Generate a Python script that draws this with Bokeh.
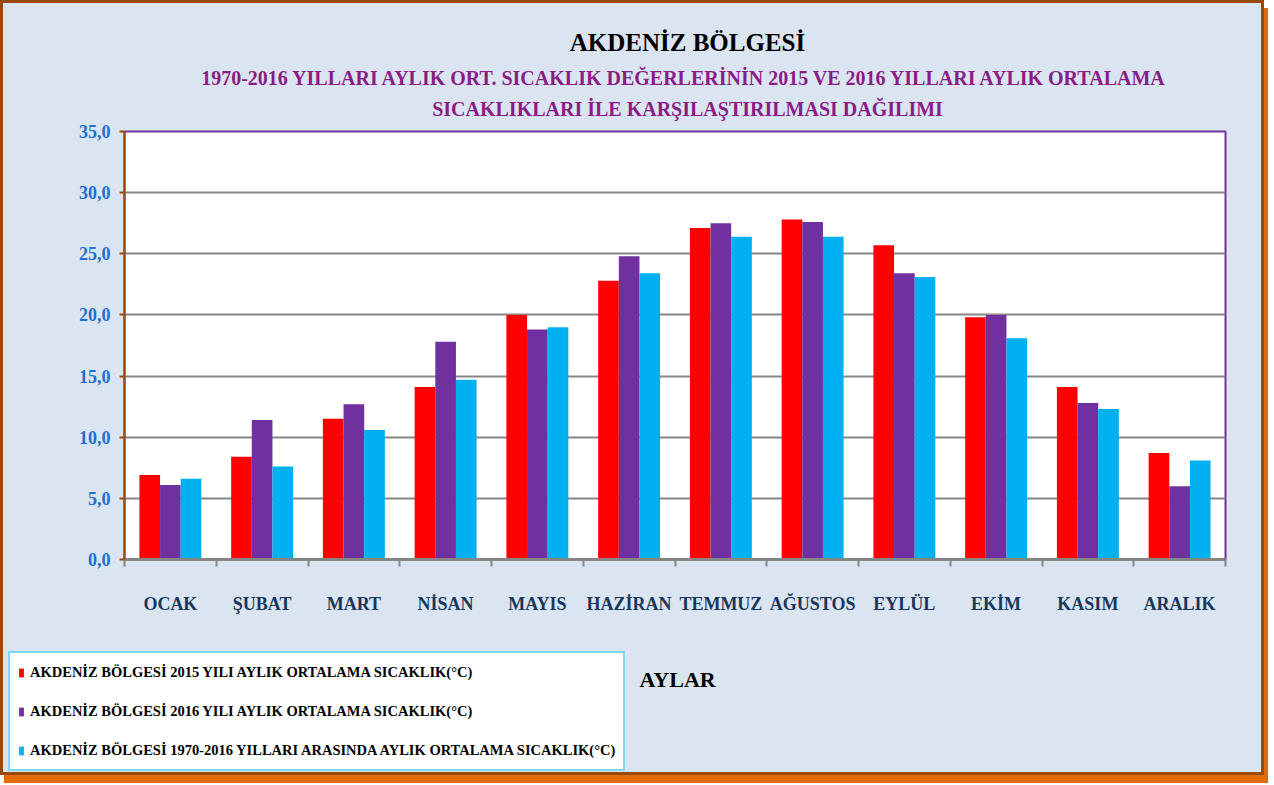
import numpy as np
from bokeh.plotting import figure
from bokeh.layouts import column
from bokeh.models import Range1d, FixedTicker, Legend, LegendItem, Label
from bokeh.embed import file_html
from bokeh.resources import INLINE

months = ["OCAK", "ŞUBAT", "MART", "NİSAN", "MAYIS", "HAZİRAN", "TEMMUZ",
          "AĞUSTOS", "EYLÜL", "EKİM", "KASIM", "ARALIK"]
t2015 = [6.9, 8.4, 11.5, 14.1, 20.0, 22.8, 27.1, 27.8, 25.7, 19.8, 14.1, 8.7]
t2016 = [6.1, 11.4, 12.7, 17.8, 18.8, 24.8, 27.5, 27.6, 23.4, 20.0, 12.8, 6.0]
tavg = [6.6, 7.6, 10.6, 14.7, 19.0, 23.4, 26.4, 26.4, 23.1, 18.1, 12.3, 8.1]
series_names = [
    "AKDENİZ BÖLGESİ 2015 YILI AYLIK ORTALAMA SICAKLIK(°C)",
    "AKDENİZ BÖLGESİ 2016 YILI AYLIK ORTALAMA SICAKLIK(°C)",
    "AKDENİZ BÖLGESİ 1970-2016 YILLARI ARASINDA AYLIK ORTALAMA SICAKLIK(°C)",
]
y_ticks = [0, 5, 10, 15, 20, 25, 30, 35]
y_tick_labels = ["0,0", "5,0", "10,0", "15,0", "20,0", "25,0", "30,0", "35,0"]
title = "AKDENİZ BÖLGESİ"
subtitle1 = "1970-2016 YILLARI AYLIK ORT. SICAKLIK DEĞERLERİNİN 2015 VE 2016  YILLARI AYLIK ORTALAMA"
subtitle2 = "SICAKLIKLARI İLE KARŞILAŞTIRILMASI DAĞILIMI"
x_title = "AYLAR"

colors = ["#FF0000", "#7030A0", "#00B0F0"]
BG = "#DBE5F1"
SERIF = "Liberation Serif"
W = 1258
H0, H1, H2 = 120, 517, 132


def no_align(fig):
    try:
        fig.frame_align = False
    except Exception:
        pass


def blank_strip(height):
    f = figure(width=W, height=height, output_backend="svg", toolbar_location=None,
               x_range=Range1d(0, len(months)), y_range=Range1d(100, 101),
               x_axis_location=None, y_axis_location=None,
               min_border_left=0, min_border_right=0, min_border_top=0, min_border_bottom=0)
    f.border_fill_color = BG
    f.background_fill_color = BG
    f.outline_line_color = None
    f.xgrid.grid_line_color = None
    f.ygrid.grid_line_color = None
    no_align(f)
    return f


# ---- header strip with the titles
h = blank_strip(H0)
for txt, size, col, ypos in [(title, "25px", "black", 81),
                             (subtitle1, "20px", "#8A1C87", 46),
                             (subtitle2, "20px", "#8A1C87", 15)]:
    h.add_layout(Label(x=684, y=ypos, x_units="screen", y_units="screen", text=txt,
                       text_font=SERIF, text_font_style="bold", text_font_size=size,
                       text_color=col, text_align="center", text_baseline="middle"))

# ---- main chart
p = figure(width=W, height=H1, output_backend="svg", toolbar_location=None,
           x_range=Range1d(0, len(months)), y_range=Range1d(0, 35),
           min_border_left=121, min_border_top=8, min_border_right=36,
           min_border_bottom=81)
no_align(p)
p.border_fill_color = BG
p.background_fill_color = "white"
p.outline_line_color = "#7030A0"
p.outline_line_width = 2

idx = np.arange(len(months)) + 0.5
offsets = [-0.225, 0.0, 0.225]
for vals, col, off in zip([t2015, t2016, tavg], colors, offsets):
    p.vbar(x=idx + off, top=vals, width=0.225, bottom=0,
           fill_color=col, line_color=None)

p.yaxis.ticker = FixedTicker(ticks=y_ticks)
p.yaxis.major_label_overrides = {t: l for t, l in zip(y_ticks, y_tick_labels)}
p.yaxis.axis_line_color = "#984807"
p.yaxis.axis_line_width = 2
p.yaxis.major_tick_line_color = "#984807"
p.yaxis.major_tick_line_width = 2
p.yaxis.major_tick_out = 5
p.yaxis.major_tick_in = 0
p.yaxis.minor_tick_line_color = None
p.yaxis.major_label_text_color = "#1F6FD0"
p.yaxis.major_label_text_font = SERIF
p.yaxis.major_label_text_font_style = "bold"
p.yaxis.major_label_text_font_size = "18px"
p.yaxis.major_label_standoff = 9

p.xaxis.ticker = FixedTicker(ticks=list(idx), minor_ticks=list(range(len(months) + 1)))
p.xaxis.major_label_overrides = {float(t): m for t, m in zip(idx, months)}
p.xaxis.axis_line_color = "#868686"
p.xaxis.axis_line_width = 3
p.xaxis.major_tick_line_color = None
p.xaxis.minor_tick_line_color = "#868686"
p.xaxis.minor_tick_line_width = 2
p.xaxis.minor_tick_out = 7
p.xaxis.minor_tick_in = 0
p.xaxis.major_label_text_color = "#17375E"
p.xaxis.major_label_text_font = SERIF
p.xaxis.major_label_text_font_style = "bold"
p.xaxis.major_label_text_font_size = "18px"
p.xaxis.major_label_standoff = 27

p.xgrid.grid_line_color = None
p.ygrid.grid_line_color = "#878787"
p.ygrid.grid_line_width = 2

# ---- lower strip: legend + axis title (bars drawn out of view, only used by legend)
q = blank_strip(H2)
legend_renderers = [q.vbar(x=idx + off, top=vals, width=0.225, bottom=0,
                           fill_color=col, line_color=None)
                    for vals, col, off in zip([t2015, t2016, tavg], colors, offsets)]
legend = Legend(items=[LegendItem(label=n, renderers=[r])
                       for n, r in zip(series_names, legend_renderers)],
                location=(5, 1), orientation="vertical")
legend.label_text_font = SERIF
legend.label_text_font_style = "bold"
legend.label_text_font_size = "14.5px"
legend.label_text_color = "black"
legend.glyph_width = 6
legend.glyph_height = 11
legend.label_standoff = 6
legend.label_height = 22
legend.spacing = 17
legend.padding = 8
legend.margin = 0
legend.border_line_color = "#00B0F0"
legend.border_line_width = 2
legend.background_fill_color = "white"
legend.background_fill_alpha = 1
q.add_layout(legend, "center")

q.add_layout(Label(x=636, y=93, x_units="screen", y_units="screen", text=x_title,
                   text_font=SERIF, text_font_style="bold", text_font_size="22px",
                   text_color="black", text_align="left", text_baseline="middle"))

layout = column(h, p, q, spacing=0)
layout.styles = {"border": "3px solid #984807",
                 "box-shadow": "4px 8px 0 #E46C0A, -3px 0 0 #E46C0A",
                 "background-color": BG}

open("out.html", "w").write(file_html(layout, INLINE))
